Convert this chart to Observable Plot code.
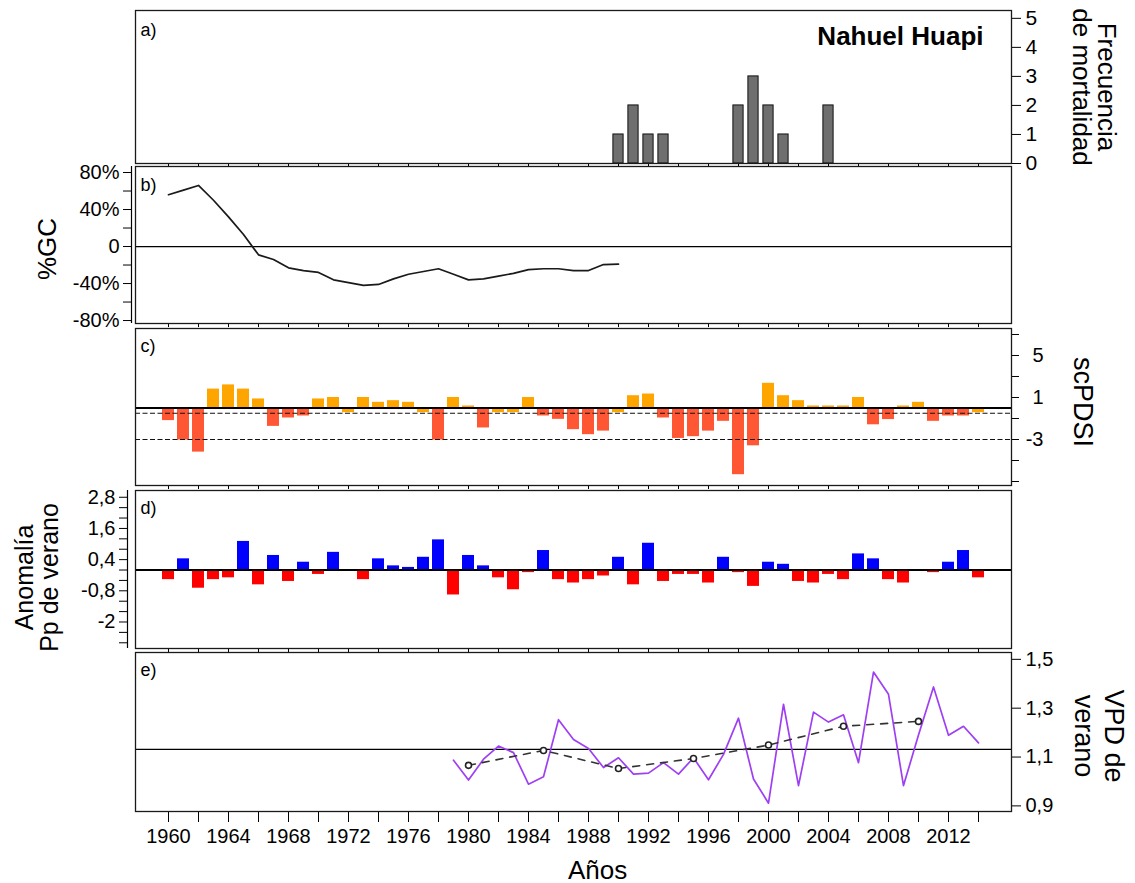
<!DOCTYPE html>
<html>
<head>
<meta charset="utf-8">
<script src="https://cdn.jsdelivr.net/npm/d3@7"></script>
<script src="https://cdn.jsdelivr.net/npm/@observablehq/plot@0.6"></script>
<style>
  body { margin: 0; background: #fff; }
  #chart { position: relative; width: 1135px; height: 883px; font-family: "Liberation Sans", Arial, sans-serif; }
  #chart svg { position: absolute; left: 0; }
</style>
</head>
<body>
<div id="chart"></div>
<script>
// ---------------- DATA ----------------
// a) Mortality frequency
const mortYears = [1990, 1991, 1992, 1993, 1998, 1999, 2000, 2001, 2004];
const mortFreq  = [1, 2, 1, 1, 2, 3, 2, 1, 2];

// b) %GC (growth change), 1960-1990
const gcStart = 1960;
const gcValues = [56, 61, 66, 50, 32, 13, -9, -14, -23, -26, -28, -36, -39, -42, -41, -35,
                  -30, -27, -24, -30, -36, -35, -32, -29, -25, -24, -24, -26, -26, -19.5, -19];

// c) scPDSI, 1960-2014
const pdsiStart = 1960;
const pdsiValues = [-1.2, -3.05, -4.2, 1.8, 2.2, 1.8, 0.86, -1.75, -0.95, -0.76,
                    0.86, 1.0, -0.44, 1.0, 0.54, 0.7, 0.54, -0.44, -3.05, 1.0,
                    0.19, -1.9, -0.44, -0.44, 1.0, -0.76, -1.08, -2.06, -2.54, -2.2,
                    -0.44, 1.17, 1.33, -0.95, -2.9, -2.73, -2.2, -1.27, -6.35, -3.6,
                    2.35, 1.17, 0.7, 0.19, 0.19, 0.19, 1.0, -1.6, -1.1, 0.19,
                    0.54, -1.27, -0.76, -0.76, -0.44];
const pdsiThresholds = [-0.5, -3];

// d) Summer precipitation anomaly, 1960-2014
const ppStart = 1960;
const ppValues = [-0.37, 0.43, -0.70, -0.37, -0.30, 1.10, -0.57, 0.56, -0.44, 0.30,
                  -0.17, 0.68, 0, -0.37, 0.43, 0.16, 0.10, 0.49, 1.16, -0.96,
                  0.56, 0.16, -0.30, -0.76, -0.10, 0.75, -0.37, -0.50, -0.37, -0.23,
                  0.49, -0.57, 1.03, -0.44, -0.17, -0.17, -0.50, 0.49, -0.10, -0.63,
                  0.30, 0.22, -0.44, -0.50, -0.17, -0.37, 0.62, 0.43, -0.37, -0.50,
                  0, -0.10, 0.30, 0.75, -0.30];
const ppTicks = [-2.8, -2.4, -2.0, -1.6, -1.2, -0.8, -0.4, 0, 0.4, 0.8, 1.2, 1.6, 2.0, 2.4, 2.8];
const ppTickLabels = [2.8, 1.6, 0.4, -0.8, -2];

// e) Summer VPD, 1979-2014, with 5-year means
const vpdStart = 1979;
const vpdValues = [1.087, 1.006, 1.091, 1.145, 1.118, 0.989, 1.019, 1.253, 1.172, 1.135,
                   1.057, 1.097, 1.030, 1.034, 1.077, 1.030, 1.097, 1.007, 1.111, 1.259,
                   1.010, 0.911, 1.316, 0.983, 1.284, 1.243, 1.273, 1.077, 1.448, 1.357,
                   0.983, 1.19, 1.387, 1.189, 1.226, 1.158];
const vpdMean = 1.131;
const trendYears  = [1980, 1985, 1990, 1995, 2000, 2005, 2010];
const trendValues = [1.066, 1.127, 1.053, 1.094, 1.149, 1.226, 1.246];

// Axis ticks
const xTicks = [1960,1962,1964,1966,1968,1970,1972,1974,1976,1978,1980,1982,1984,1986,1988,1990,
                1992,1994,1996,1998,2000,2002,2004,2006,2008,2010,2012,2014];
const xTickLabels = [1960,1964,1968,1972,1976,1980,1984,1988,1992,1996,2000,2004,2008,2012];

// ---------------- TABLES ----------------
const mort  = mortYears.map((year, i) => ({year, n: mortFreq[i]}));
const gc    = gcValues.map((v, i) => ({year: gcStart + i, v}));
const pdsi  = pdsiValues.map((v, i) => ({year: pdsiStart + i, v}));
const pp    = ppValues.map((v, i) => ({year: ppStart + i, v}));
const vpd   = vpdValues.map((v, i) => ({year: vpdStart + i, v}));
const trend = trendYears.map((year, i) => ({year, v: trendValues[i]}));

// ---------------- LAYOUT ----------------
const W = 1135, ML = 135, MR = 124, PAD = 30;
const X_DOMAIN = [1957.8, 2016.2];
const FONT = '"Liberation Sans", Arial, sans-serif';
const chart = document.getElementById("chart");
const comma = d => String(Math.round(d * 10) / 10).replace(".", ",");

function panel(top, bottom, yDomain, marks, padTop = PAD, padBottom = PAD) {
  const p = Plot.plot({
    width: W,
    height: bottom - top + padTop + padBottom,
    marginLeft: ML, marginRight: MR, marginTop: padTop, marginBottom: padBottom,
    x: {domain: X_DOMAIN},
    y: {domain: yDomain},
    style: {background: "transparent", overflow: "visible", fontFamily: FONT, fontSize: "19px", color: "black"},
    marks
  });
  p.style.position = "absolute";
  p.style.left = "0px";
  p.style.top = (top - padTop) + "px";
  chart.append(p);
}

const betweenTicks = () => Plot.axisX({anchor: "bottom", ticks: xTicks, tickSize: 4, tickFormat: () => "", label: null});
const panelLabel = (t, dy) => Plot.text([t], {frameAnchor: "top-left", dx: 5, dy, textAnchor: "start", lineAnchor: "middle", fontSize: 18});
const frame = () => Plot.frame({stroke: "#1a1a1a", strokeWidth: 1.3});

// a) Mortality
panel(10, 163, [0, 5.27], [
  Plot.rectY(mort, {x1: d => d.year - 0.34, x2: d => d.year + 0.34, y1: 0, y2: "n",
                    fill: "#6f6f6f", stroke: "#111", strokeWidth: 1}),
  Plot.axisY({anchor: "right", ticks: [0, 1, 2, 3, 4, 5], tickSize: 9, tickPadding: 5,
              tickFormat: d => String(d), fontSize: 21, label: null}),
  betweenTicks(),
  frame(),
  panelLabel("a)", 20),
  Plot.text(["Nahuel Huapi"], {frameAnchor: "top-right", dx: -28, dy: 26, textAnchor: "end", lineAnchor: "middle",
                               fontSize: 26, fontWeight: "bold"}),
  Plot.text(["Frecuencia\nde mortalidad"], {frameAnchor: "right", dx: 82, rotate: 90, textAnchor: "middle",
                                            lineAnchor: "middle", fontSize: 26, lineHeight: 0.95})
], 10, PAD);

// b) %GC
panel(166, 323, [-83.2, 86.5], [
  Plot.ruleY([0], {stroke: "black", strokeWidth: 1.3}),
  Plot.line(gc, {x: "year", y: "v", stroke: "#1a1a1a", strokeWidth: 1.7}),
  Plot.ruleX([X_DOMAIN[0]], {dx: -4, stroke: "black", strokeWidth: 1.2}),
  Plot.axisY({anchor: "left", ticks: [-80, -40, 0, 40, 80], tickSize: 8, tickPadding: 4, dx: -4,
              tickFormat: d => d === 0 ? "0" : d + "%", fontSize: 20, label: null}),
  Plot.axisY({anchor: "left", ticks: [-60, -20, 20, 60], tickSize: 8, dx: -4, tickFormat: () => "", label: null}),
  betweenTicks(),
  frame(),
  panelLabel("b)", 19),
  Plot.text(["%GC"], {frameAnchor: "left", dx: -88, dy: 4, rotate: -90, textAnchor: "middle", lineAnchor: "middle", fontSize: 26})
]);

// c) scPDSI
panel(328, 485, [-7.38, 7.57], [
  Plot.rectY(pdsi, {filter: d => d.v >= -0.5, x1: d => d.year - 0.4, x2: d => d.year + 0.4, y1: 0, y2: "v", fill: "#ffa500"}),
  Plot.rectY(pdsi, {filter: d => d.v < -0.5, x1: d => d.year - 0.4, x2: d => d.year + 0.4, y1: 0, y2: "v", fill: "#ff5733"}),
  Plot.ruleY(pdsiThresholds, {stroke: "#111", strokeWidth: 1.2, strokeDasharray: "5,2.5"}),
  Plot.ruleY([0], {stroke: "black", strokeWidth: 2}),
  Plot.axisY({anchor: "right", ticks: [-7, -5, -3, -1, 1, 3, 5, 7], tickSize: 7, tickPadding: 25, textAnchor: "end",
              tickFormat: d => [5, 1, -3].includes(d) ? String(d) : "", fontSize: 20, label: null}),
  betweenTicks(),
  frame(),
  panelLabel("c)", 18),
  Plot.text(["scPDSI"], {frameAnchor: "right", dx: 71, dy: -5, rotate: 90, textAnchor: "middle", lineAnchor: "middle", fontSize: 27})
]);

// d) Precipitation anomaly
panel(490, 648, [-3.02, 3.06], [
  Plot.rectY(pp, {filter: d => d.v >= 0, x1: d => d.year - 0.4, x2: d => d.year + 0.4, y1: 0, y2: "v", fill: "#0000ff"}),
  Plot.rectY(pp, {filter: d => d.v < 0, x1: d => d.year - 0.4, x2: d => d.year + 0.4, y1: 0, y2: "v", fill: "#ff0000"}),
  Plot.ruleY([0], {stroke: "black", strokeWidth: 2}),
  Plot.ruleX([X_DOMAIN[0]], {dx: -8, stroke: "black", strokeWidth: 1.2}),
  Plot.axisY({anchor: "left", ticks: ppTicks, tickSize: 8, tickPadding: 4, dx: -8,
              tickFormat: d => ppTickLabels.some(t => Math.abs(t - d) < 1e-6) ? comma(d) : "", fontSize: 20, label: null}),
  betweenTicks(),
  frame(),
  panelLabel("d)", 18),
  Plot.text(["Anomalía\nPp de verano"], {frameAnchor: "left", dx: -98, dy: 8, rotate: -90, textAnchor: "middle",
                                          lineAnchor: "middle", fontSize: 25, lineHeight: 1.0})
]);

// e) VPD
panel(652, 811, [0.877, 1.528], [
  Plot.ruleY([vpdMean], {stroke: "black", strokeWidth: 1.3}),
  Plot.line(vpd, {x: "year", y: "v", stroke: "#9f3ff3", strokeWidth: 1.7}),
  Plot.line(trend, {x: "year", y: "v", stroke: "#333", strokeWidth: 1.6, strokeDasharray: "7,7"}),
  Plot.dot(trend, {x: "year", y: "v", r: 3, stroke: "#222", strokeWidth: 1.6, fill: "white"}),
  Plot.axisY({anchor: "right", ticks: [0.9, 1.1, 1.3, 1.5], tickSize: 9, tickPadding: 5, tickFormat: comma, fontSize: 20, label: null}),
  Plot.axisX({anchor: "bottom", ticks: xTicks, tickSize: 11, tickPadding: 6,
              tickFormat: d => xTickLabels.includes(d) ? String(d) : "", fontSize: 20, label: null}),
  frame(),
  panelLabel("e)", 18),
  Plot.text(["VPD de\nverano"], {frameAnchor: "right", dx: 88, dy: 4, rotate: 90, textAnchor: "middle",
                                  lineAnchor: "middle", fontSize: 27, lineHeight: 1.1}),
  Plot.text(["Años"], {frameAnchor: "bottom", dx: 24, dy: 59, textAnchor: "middle", lineAnchor: "middle", fontSize: 26})
], PAD, 72);
</script>
</body>
</html>
